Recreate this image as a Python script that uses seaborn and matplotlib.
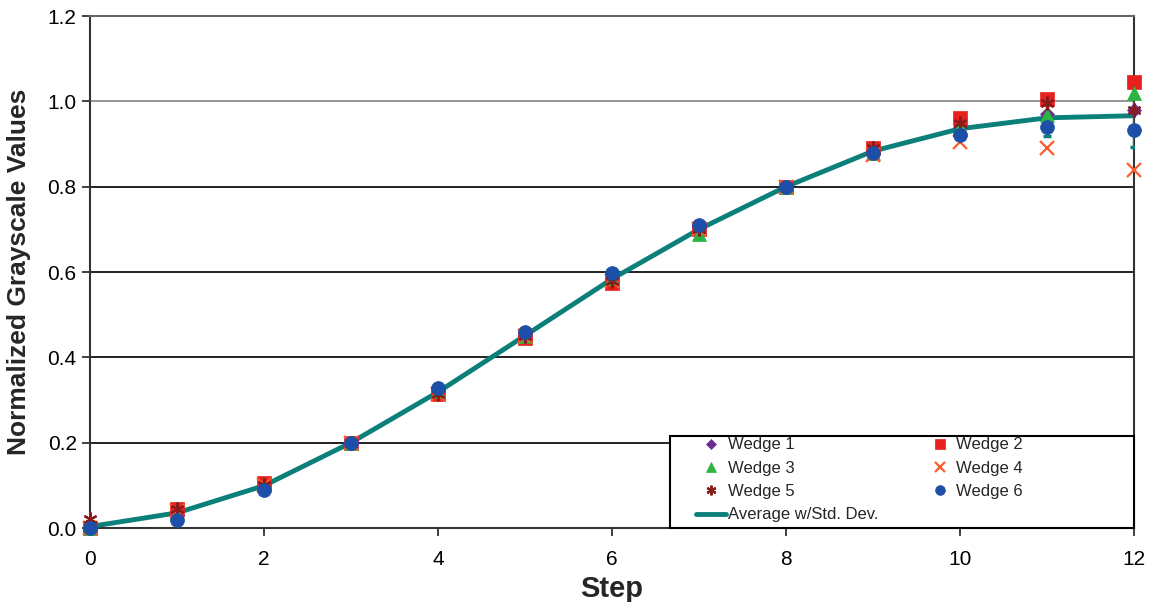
import matplotlib
matplotlib.use('Agg')
import matplotlib.pyplot as plt
from matplotlib.patches import Rectangle
import seaborn as sns
import numpy as np
import pandas as pd

# datos
steps = list(range(13))
wedge1 = [0.0, 0.030, 0.100, 0.200, 0.320, 0.450, 0.585, 0.700, 0.800, 0.885, 0.940, 0.970, 0.980]
wedge2 = [0.0, 0.045, 0.105, 0.200, 0.315, 0.445, 0.575, 0.700, 0.800, 0.890, 0.960, 1.005, 1.045]
wedge3 = [0.0, 0.035, 0.100, 0.200, 0.320, 0.450, 0.585, 0.690, 0.800, 0.880, 0.940, 0.968, 1.020]
wedge4 = [0.0, 0.040, 0.100, 0.200, 0.315, 0.450, 0.580, 0.700, 0.800, 0.875, 0.905, 0.890, 0.840]
wedge5 = [0.020, 0.045, 0.100, 0.200, 0.315, 0.450, 0.580, 0.700, 0.800, 0.890, 0.950, 0.995, 0.980]
wedge6 = [0.0, 0.018, 0.090, 0.200, 0.327, 0.460, 0.597, 0.710, 0.800, 0.880, 0.920, 0.940, 0.933]

wedges = [wedge1, wedge2, wedge3, wedge4, wedge5, wedge6]
names = ['Wedge 1', 'Wedge 2', 'Wedge 3', 'Wedge 4', 'Wedge 5', 'Wedge 6']
colors = ['#6B2C91', '#E8201E', '#2DB341', '#FF5A2A', '#8B1C1C', '#1B4FA8']
markers = ['D', 's', '^', 'x', (6, 2, 0), 'o']
msizes = [7, 10, 10, 10, 10, 10]

teal = '#0B7F7A'

sns.set_theme(style='white')
plt.rcParams['font.family'] = ['Liberation Sans', 'DejaVu Sans']

fig = plt.figure(figsize=(11.53, 6.02), dpi=100)
ax = fig.add_axes([0.078, 0.1229, 0.9055, 0.8505])

arr = np.array(wedges)
avg = arr.mean(axis=0)
std = arr.std(axis=0, ddof=1)
df = pd.DataFrame({'step': steps, 'avg': avg})

ax.errorbar(steps, avg, yerr=std, fmt='none', ecolor=teal, elinewidth=2.5, capsize=3, capthick=2.5, zorder=3)
sns.lineplot(data=df, x='step', y='avg', color=teal, lw=3.5, ax=ax, zorder=4,
             label='Average w/Std. Dev.')

handles = {}
for w, n, c, m, s in zip(wedges, names, colors, markers, msizes):
    lw = 1.6 if m in ('x', (6, 2, 0)) else 0.5
    h, = ax.plot(steps, w, linestyle='none', marker=m, color=c, markersize=s,
                 markeredgewidth=lw, label=n, zorder=5, clip_on=False)
    handles[n] = h

lh, ll = ax.get_legend_handles_labels()
avg_h = lh[ll.index('Average w/Std. Dev.')]
order = [handles['Wedge 1'], handles['Wedge 3'], handles['Wedge 5'], avg_h,
         handles['Wedge 2'], handles['Wedge 4'], handles['Wedge 6']]
labels = ['Wedge 1', 'Wedge 3', 'Wedge 5', 'Average w/Std. Dev.', 'Wedge 2', 'Wedge 4', 'Wedge 6']

# caja de la leyenda (como en excel, mas ancha que el contenido)
ax.add_patch(Rectangle((0.5556, 0.0), 0.4444, 0.18, transform=ax.transAxes,
                       facecolor='white', edgecolor='black', lw=1.5, zorder=6, clip_on=False))
leg = ax.legend(order, labels, ncol=2, loc='upper left', bbox_to_anchor=(0.5805, 0.177),
                frameon=False, fontsize=12, handlelength=1.8, handletextpad=0.1,
                columnspacing=2.8, labelspacing=0.5, borderpad=0, borderaxespad=0,
                markerscale=0.7)
leg.set_zorder(7)

ax.set_xlim(0, 12)
ax.set_ylim(0, 1.2)
ax.set_xticks(range(0, 13, 2))
ax.set_yticks(np.arange(0, 1.21, 0.2))
ax.set_yticklabels([f'{v:.1f}' for v in np.arange(0, 1.21, 0.2)])
ax.yaxis.grid(True, color='#111111', lw=1.3)
ax.get_ygridlines()[5].set_color('#8c8c8c')
ax.xaxis.grid(False)
for sp in ax.spines.values():
    sp.set_color('#333333')
    sp.set_linewidth(1.5)
ax.spines['top'].set_color('#666666')
ax.tick_params(axis='both', direction='out', length=6, width=1.3, colors='#333333',
               labelsize=15, labelcolor='black', left=True, bottom=True)
ax.tick_params(axis='x', pad=10)
ax.set_xlabel('Step', fontsize=21, fontweight='bold', labelpad=4)
ax.set_ylabel('Normalized Grayscale Values', fontsize=19, fontweight='bold', labelpad=12)

plt.savefig('out.png', dpi=100)
